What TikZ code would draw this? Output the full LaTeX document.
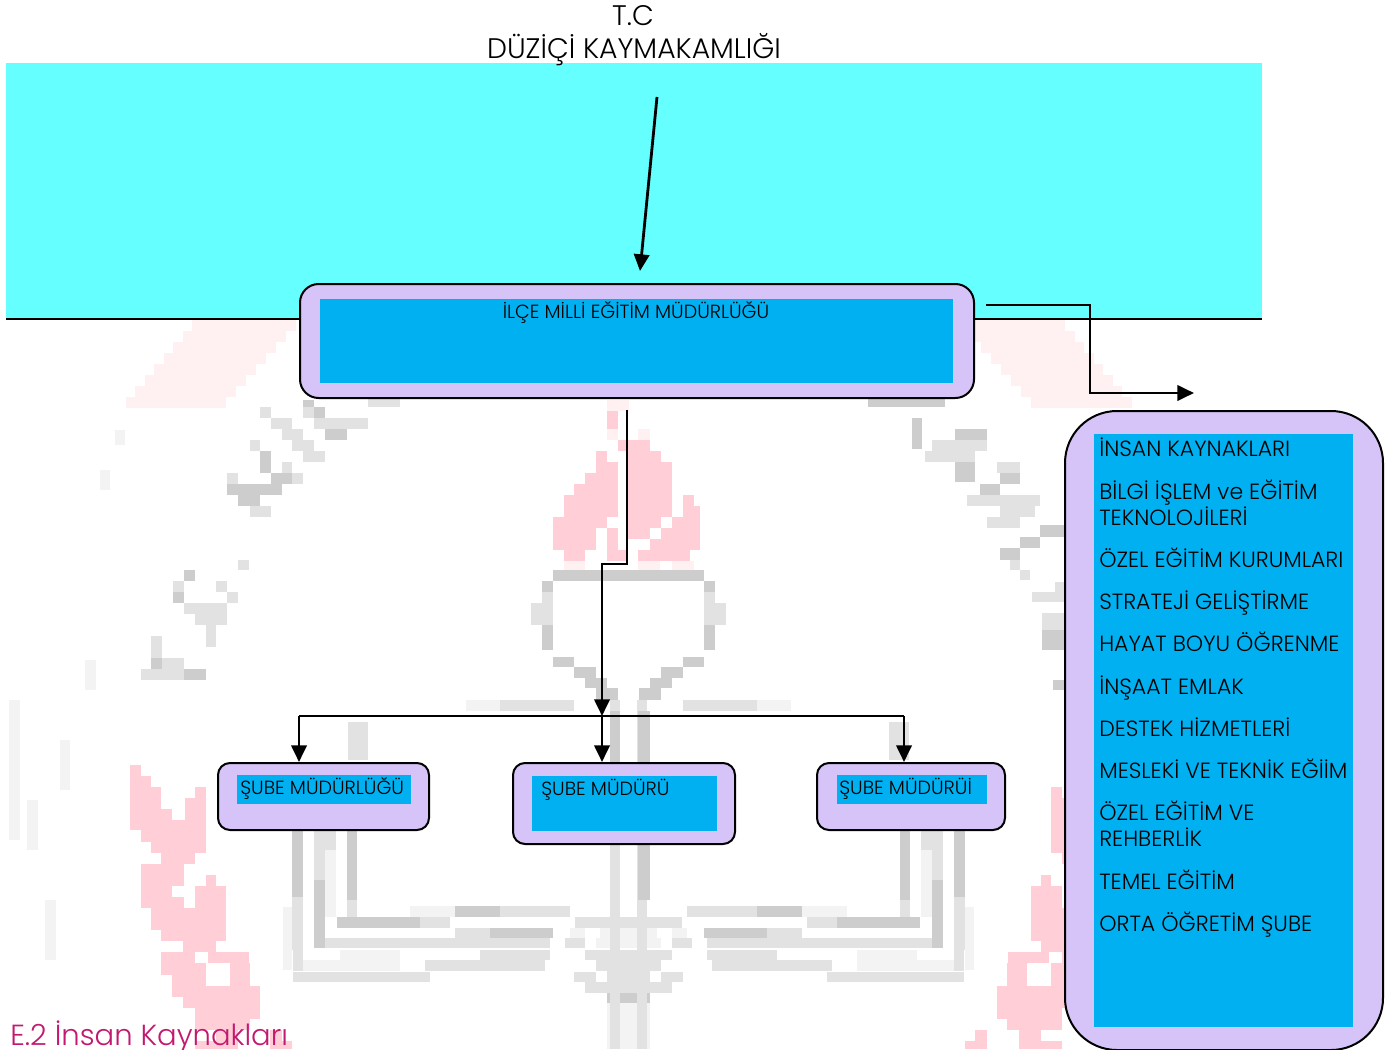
\documentclass[tikz,border=0pt]{standalone}
\usepackage{fontspec}
\setmainfont{Poppins}[UprightFont=* Light]
\usetikzlibrary{arrows.meta,calc}
\definecolor{cyanband}{HTML}{66FFFF}
\definecolor{lilac}{HTML}{D6C3F8}
\definecolor{skyfill}{HTML}{00B0F0}
\definecolor{maroon}{HTML}{C2186F}
\definecolor{wmA}{HTML}{CDCDCD}
\definecolor{wmB}{HTML}{E2E2E2}
\definecolor{wmC}{HTML}{F3F3F3}
\definecolor{wmP}{HTML}{FFCED7}
\definecolor{wmQ}{HTML}{FFF0F2}
\tikzset{
  x=0.75pt,y=-0.75pt,
  panel/.style={draw=black,line width=1.5pt,fill=lilac,inner sep=0pt},
  innerpanel/.style={fill=skyfill,inner sep=0pt},
  arr/.style={draw=black,line width=2.1pt,-{Triangle[length=12.5pt,width=11.5pt]}},
  txt/.style={inner sep=0pt,text=black,font=\fontsize{14.3}{16}\selectfont},
  listtxt/.style={inner sep=0pt,text=black,anchor=base west,font=\fontsize{16.5}{18}\selectfont},
  head/.style={inner sep=0pt,text=black,anchor=base,font=\fontsize{21.2}{24}\selectfont},
}
% both halves of the symmetrical watermark (mirror axis x=628.5)
\newcommand\wmsym[2]{\foreach \a/\b/\c/\d in {#2}{\fill[#1] (\a,\c) rectangle (\b,\d);\fill[#1] ({1257-\a},\c) rectangle ({1257-\b},\d);}}
\newcommand\wmone[2]{\foreach \a/\b/\c/\d in {#2}{\fill[#1] (\a,\c) rectangle (\b,\d);}}
\newcommand\pxbox[6]{\node[#1,minimum width={(#5-#3)*0.75pt},minimum height={(#6-#4)*0.75pt}] (#2) at ({(#3+#5)/2},{(#4+#6)/2}) {};}
\begin{document}
\begin{tikzpicture}
\useasboundingbox (0,0) rectangle (1398,1049);
\clip (0,0) rectangle (1398,1049);
\fill[white] (0,0) rectangle (1398,1049);
% ---- watermark: pale wings
\foreach \i in {0,...,7}{
  \pgfmathsetmacro\ya{320+11*\i}\pgfmathsetmacro\yb{331+11*\i}
  \pgfmathsetmacro\xa{192-9.5*\i}\pgfmathsetmacro\xb{296-10*\i}
  \fill[wmQ] (\xa,\ya) rectangle (\xb,\yb);
  \fill[wmQ] ({1257-\xa},\ya) rectangle ({1257-\xb},\yb);
}
% ---- watermark: laurel
\wmsym{wmP}{130/141/765/776,130/151/776/787,130/161/787/809,195/206/787/798,185/206/798/809,130/172/809/820,185/206/809/820,130/206/820/830,141/206/830/842,151/206/842/853,161/195/853/864,141/184/864/886,206/216/875/886,141/172/886/897,195/226/886/897,141/184/897/908,195/226/897/908,151/226/908/930,161/226/930/941,183/216/941/952,161/195/952/963,208/249/952/963,161/206/963/975,230/250/963/986,172/206/975/986,172/260/986/997,183/260/997/1008,195/260/1008/1019,195/250/1019/1030,216/238/1030/1041,270/282/1030/1041,195/238/1041/1049,270/292/1041/1049}
% ---- watermark: flame
\wmone{wmP}{607/618/411/429,618/650/440/451,596/607/451/462,627/661/451/462,596/618/462/473,627/672/462/473,585/618/473/484,627/672/473/484,574/618/484/495,627/672/484/495,564/618/495/517,627/672/495/517,683/694/495/506,683/700/506/517,553/607/517/528,627/661/517/528,672/700/517/528,553/596/528/539,607/618/528/539,627/650/528/539,661/700/528/539,553/596/539/550,607/618/539/550,650/700/539/550,564/585/550/561,607/627/550/561,638/690/550/561}
\wmone{wmQ}{607/629/400/411,607/618/429/440,638/650/429/440,564/585/561/570,638/660/561/570,672/694/561/570}
% ---- watermark: cup, torch, open book
\wmsym{wmA}{553/630/570/581,542/553/581/592,542/553/625/650,553/574/657/667,574/596/667/678,585/607/678/688,596/618/688/700}
\wmsym{wmB}{542/553/592/625,531/542/603/625,610/620/700/770,500/574/700/711}
\wmsym{wmC}{466/500/700/711}
\wmone{wmA}{610/620/711/763,638/650/711/763}
\wmsym{wmA}{292/303/830/897,314/325/880/948,347/357/830/900,337/420/917/928,455/500/906/917,490/553/928/938,413/446/938/948}
\wmsym{wmB}{292/303/897/950,314/325/830/880,325/336/830/850,347/357/900/917,325/550/938/948,500/570/906/917,420/450/917/928,455/490/928/938,293/303/950/971,425/545/960/971,480/550/950/960,293/430/972/982,574/596/972/982,585/607/982/993,348/368/722/760,575/628.5/917/928,565/585/938/948,585/628.5/950/960,596/628.5/960/971,607/628.5/971/993}
\wmsym{wmC}{283/292/907/970,325/336/850/917,340/400/950/960,303/400/960/971,410/455/906/917,607/628.5/1003/1049,570/585/928/938,600/628.5/928/938,596/628.5/938/948}
\wmsym{wmA}{607/628.5/993/1003}
\wmsym{wmB}{610/620/844/1049}
\wmone{wmA}{638/650/844/900}
% ---- watermark: pixel lettering
\wmone{wmA}{303/314/400/411,314/325/407/418,325/347/429/440,260/271/451/473,271/292/473/484,227/282/484/495,238/260/495/506,260/271/506/517,184/195/570/581,173/184/592/603,151/162/658/669,184/206/669/680,955/987/429/440,912/922/418/449,1000/1020/473/484,955/975/462/482,980/1000/484/495,1000/1012/517/528,1040/1065/525/537,1020/1040/537/548,1000/1020/548/560,1042/1065/630/650,1053/1065/680/690,868/945/398/407}
\wmone{wmB}{260/271/407/418,303/314/407/418,271/292/418/429,314/347/418/429,347/368/418/429,282/303/429/440,250/260/440/451,292/314/440/451,303/325/451/462,282/292/462/473,227/238/473/484,292/303/473/484,250/271/506/517,368/400/398/407,238/249/560/570,173/184/581/592,216/227/581/592,227/238/592/603,184/227/603/614,195/227/614/625,206/216/625/647,151/162/636/658,162/184/658/669,141/184/669/680,932/955/440/451,955/987/440/451,925/975/451/462,997/1020/462/473,967/1040/495/506,1000/1035/506/517,987/1020/517/528,1010/1020/560/570,1020/1030/570/580,1032/1065/592/602,1055/1065/582/592,1042/1065/613/630}
\wmone{wmC}{9/20/700/840,27/38/800/850,45/56/900/960,60/70/740/790,85/96/660/690,115/125/430/445,100/110/470/490}
% ---- top band
\fill[cyanband] (6,63) rectangle (1262,319);
\coordinate (bandL) at (6,319);
\coordinate (bandR) at (1262,319);
\draw[line width=1.75pt] (bandL) -- (bandR);
% ---- titles
\node[head] (tc) at (633,26) {T.C};
\node[head] (kaym) at (634,59) {DÜZİÇİ KAYMAKAMLIĞI};
% ---- main box
\begin{scope}[rounded corners=14pt]
\pxbox{panel}{mainbox}{300}{284}{974}{398}
\end{scope}
\pxbox{innerpanel}{maininner}{320}{299}{953}{383}
\node[txt,anchor=base] (maintxt) at (636,318) {İLÇE MİLLİ EĞİTİM MÜDÜRLÜĞÜ};
% ---- sub boxes
\begin{scope}[rounded corners=9pt]
\pxbox{panel}{subA}{218}{763}{429}{830}
\pxbox{panel}{subB}{513}{763}{735}{844}
\pxbox{panel}{subC}{817}{763}{1005}{830}
\end{scope}
\pxbox{innerpanel}{subAin}{237}{775}{411}{804}
\pxbox{innerpanel}{subBin}{532}{776}{717}{831}
\pxbox{innerpanel}{subCin}{837}{775}{987}{804}
\node[txt,anchor=base west] (subAt) at (240,794) {ŞUBE MÜDÜRLÜĞÜ};
\node[txt,anchor=base west] (subBt) at (541,795) {ŞUBE MÜDÜRÜ};
\node[txt,anchor=base west] (subCt) at (839,794) {ŞUBE MÜDÜRÜİ};
% ---- right panel
\begin{scope}[rounded corners=39pt]
\pxbox{panel}{side}{1065}{411}{1383}{1050}
\end{scope}
\pxbox{innerpanel}{sidein}{1094}{434}{1353}{1027}
\node[listtxt] (l1) at (1099,456) {İNSAN KAYNAKLARI};
\node[listtxt] (l2) at (1099,499) {BİLGİ İŞLEM ve EĞİTİM};
\node[listtxt] (l2b) at (1099,525) {TEKNOLOJİLERİ};
\node[listtxt] (l3) at (1099,567) {ÖZEL EĞİTİM KURUMLARI};
\node[listtxt] (l4) at (1099,609) {STRATEJİ GELİŞTİRME};
\node[listtxt] (l5) at (1099,651) {HAYAT BOYU ÖĞRENME};
\node[listtxt] (l6) at (1099,694) {İNŞAAT EMLAK};
\node[listtxt] (l7) at (1099,736) {DESTEK HİZMETLERİ};
\node[listtxt] (l8) at (1099,778) {MESLEKİ VE TEKNİK EĞİİM};
\node[listtxt] (l9) at (1099,820) {ÖZEL EĞİTİM VE};
\node[listtxt] (l9b) at (1099,846) {REHBERLİK};
\node[listtxt] (l10) at (1099,889) {TEMEL EĞİTİM};
\node[listtxt] (l11) at (1099,931) {ORTA ÖĞRETİM ŞUBE};
% ---- heading
\node[inner sep=0pt,anchor=base west,text=maroon,font=\fontsize{21.8}{24}\selectfont] (esec) at (10,1045) {E.2 İnsan Kaynakları};
% ---- connectors
\coordinate (aS) at (657,97);
\coordinate (aE) at (640,271);
\draw[arr] (aS) -- (aE);
\coordinate (bS) at (986,305);
\coordinate (bM) at (1090,305);
\coordinate (bN) at (1090,393);
\coordinate (bE) at (1194,393);
\draw[arr,line join=miter] (bS) -- (bM) -- (bN) -- (bE);
\coordinate (cS) at (627,410);
\coordinate (cM) at (627,564);
\coordinate (cN) at (602,564);
\coordinate (jM) at (602,716);
\draw[arr] (cS) -- (cM) -- (cN) -- (jM);
\coordinate (jL) at (299,716);
\coordinate (jR) at (904,716);
\draw[line width=2.1pt] (jL) -- (jR);
\draw[arr] (jL) -- (jL |- subA.north);
\draw[arr] (jM) -- (jM |- subB.north);
\draw[arr] (jR) -- (jR |- subC.north);
\end{tikzpicture}
\end{document}
